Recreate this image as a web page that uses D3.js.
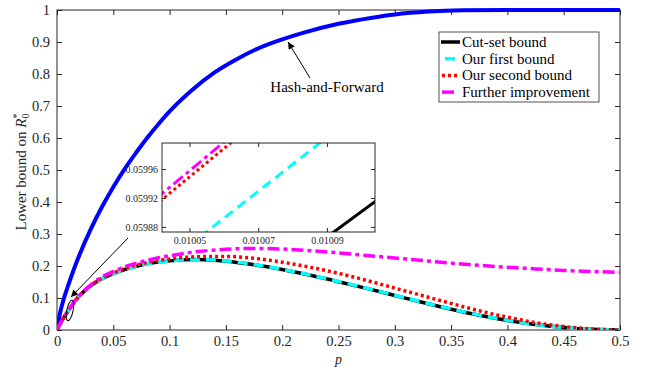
<!DOCTYPE html>
<html>
<head>
<meta charset="utf-8">
<script src="https://cdn.jsdelivr.net/npm/d3@7"></script>
<style>
  body { margin: 0; background: #fff; }
  svg, svg text { font-family: "Liberation Serif", "Times New Roman", Tinos, Times, "DejaVu Serif", serif !important; }
</style>
</head>
<body>
<div id="area"></div>
<script>
// Hash-and-Forward curve
var pBlue = [0, 0.0025, 0.005, 0.01, 0.015, 0.02, 0.03, 0.04, 0.05, 0.06, 0.07, 0.08, 0.09, 0.1,
  0.12, 0.14, 0.16, 0.18, 0.2, 0.22, 0.25, 0.28, 0.3, 0.33, 0.36, 0.4, 0.45, 0.5];
var hashForward = [0, 0.05, 0.085, 0.14, 0.19, 0.235, 0.315, 0.385, 0.447, 0.503, 0.553, 0.6, 0.643, 0.683,
  0.75, 0.805, 0.847, 0.882, 0.908, 0.93, 0.957, 0.976, 0.986, 0.995, 0.999, 1, 1, 1];

// lower bounds
var pLow = [0, 0.005, 0.01, 0.015, 0.02, 0.03, 0.04, 0.05, 0.06, 0.075, 0.1, 0.125, 0.15, 0.175, 0.2,
  0.225, 0.25, 0.275, 0.3, 0.325, 0.35, 0.375, 0.4, 0.425, 0.45, 0.475, 0.5];
var cutSet = [0, 0.033, 0.060, 0.086, 0.107, 0.138, 0.160, 0.176, 0.189, 0.203, 0.216, 0.220, 0.215, 0.204, 0.189,
  0.171, 0.151, 0.130, 0.108, 0.086, 0.065, 0.046, 0.030, 0.017, 0.008, 0.002, 0];
var firstBound = [0, 0.033, 0.060, 0.086, 0.107, 0.138, 0.160, 0.176, 0.189, 0.203, 0.216, 0.2205, 0.2155, 0.2045, 0.1895,
  0.1715, 0.1515, 0.1305, 0.1085, 0.0865, 0.0655, 0.0465, 0.0305, 0.0172, 0.0082, 0.002, 0];
var secondBound = [0, 0.033, 0.060, 0.086, 0.107, 0.139, 0.162, 0.178, 0.192, 0.207, 0.222, 0.229, 0.230, 0.224, 0.212,
  0.196, 0.177, 0.155, 0.131, 0.107, 0.083, 0.060, 0.040, 0.023, 0.011, 0.003, 0];
var further = [0, 0.034, 0.060, 0.087, 0.108, 0.141, 0.166, 0.183, 0.197, 0.213, 0.232, 0.245, 0.252, 0.255, 0.253,
  0.248, 0.241, 0.233, 0.225, 0.217, 0.209, 0.202, 0.196, 0.191, 0.186, 0.183, 0.180];

// zoomed inset, [p, value] pairs
var insetCut = [[0.010090, 0.059866], [0.010106, 0.059922]];
var insetFirst = [[0.010053, 0.059866], [0.010089, 0.060000]];
var insetSecond = [[0.010040, 0.059910], [0.010063, 0.060000]];
var insetFurther = [[0.010040, 0.059918], [0.010061, 0.060001]];

var xTicks = [0, 0.05, 0.1, 0.15, 0.2, 0.25, 0.3, 0.35, 0.4, 0.45, 0.5];
var yTicks = [0, 0.1, 0.2, 0.3, 0.4, 0.5, 0.6, 0.7, 0.8, 0.9, 1];
var insetXTicks = [0.01005, 0.01007, 0.01009];
var insetYTicks = [0.05988, 0.05992, 0.05996];

var legendNames = ["Cut-set bound", "Our first bound", "Our second bound", "Further improvement"];

var axisColor = "#262626";
var serif = '"Liberation Serif", "Times New Roman", Tinos, Times, "DejaVu Serif", serif';

var styles = {
  cut: { color: "#000000", width: 3.5, dash: null },
  first: { color: "#00ffff", width: 3.5, dash: "10,6" },
  second: { color: "#ff0000", width: 3.5, dash: "3,3" },
  further: { color: "#ff00ff", width: 3.5, dash: "12,4,4,4" }
};

var margin = { top: 10, right: 30, bottom: 43, left: 57 },
  width = 650 - margin.left - margin.right,
  height = 373 - margin.top - margin.bottom;

var svg = d3.select("#area").append("svg")
  .attr("width", 650).attr("height", 373)
  .attr("font-family", serif);

var defs = svg.append("defs");
defs.append("clipPath").attr("id", "plotClip")
  .append("rect").attr("x", 0).attr("y", -3).attr("width", width).attr("height", height + 3);
defs.append("marker").attr("id", "arrow")
  .attr("viewBox", "0 0 10 10").attr("refX", 10).attr("refY", 5)
  .attr("markerWidth", 9).attr("markerHeight", 7).attr("markerUnits", "userSpaceOnUse")
  .attr("orient", "auto")
  .append("path").attr("d", "M0,0 L10,5 L0,10 Z").attr("fill", "#000");

var g = svg.append("g").attr("transform", "translate(" + margin.left + "," + margin.top + ")");

var x = d3.scaleLinear().domain([0, 0.5]).range([0, width]);
var y = d3.scaleLinear().domain([0, 1]).range([height, 0]);

// box + inward ticks on all sides
g.append("rect").attr("width", width).attr("height", height)
  .attr("fill", "none").attr("stroke", axisColor).attr("stroke-width", 1);

var fmt = function (d) { return d3.format("~g")(d); };

var xb = g.append("g").attr("transform", "translate(0," + height + ")")
  .call(d3.axisBottom(x).tickValues(xTicks).tickSize(-5).tickPadding(6).tickFormat(fmt));
var xt = g.append("g")
  .call(d3.axisTop(x).tickValues(xTicks).tickSize(-5).tickFormat(""));
var yl = g.append("g")
  .call(d3.axisLeft(y).tickValues(yTicks).tickSize(-5).tickPadding(7).tickFormat(fmt));
var yr = g.append("g").attr("transform", "translate(" + width + ",0)")
  .call(d3.axisRight(y).tickValues(yTicks).tickSize(-5).tickFormat(""));
[xb, xt, yl, yr].forEach(function (a) {
  a.attr("font-family", serif);
  a.select(".domain").remove();
  a.selectAll("line").attr("stroke", axisColor);
  a.selectAll("text").attr("fill", axisColor).style("font-size", "14.5px");
});

// curves
var plot = g.append("g").attr("clip-path", "url(#plotClip)");
var line = d3.line().x(function (d) { return x(d[0]); }).y(function (d) { return y(d[1]); })
  .curve(d3.curveMonotoneX);

function draw(px, vals, st, target) {
  target.append("path")
    .datum(px.map(function (p, i) { return [p, vals[i]]; }))
    .attr("d", line)
    .attr("fill", "none")
    .attr("stroke", st.color)
    .attr("stroke-width", st.width)
    .attr("stroke-dasharray", st.dash);
}

draw(pBlue, hashForward, { color: "#0000ff", width: 4, dash: null }, plot);
draw(pLow, cutSet, styles.cut, plot);
draw(pLow, firstBound, styles.first, plot);
draw(pLow, secondBound, styles.second, plot);
draw(pLow, further, styles.further, plot);

// annotations
var hfFrom = [0.2247, 0.7875], hfTo = [0.2052, 0.90];
g.append("line")
  .attr("x1", x(hfFrom[0])).attr("y1", y(hfFrom[1]))
  .attr("x2", x(hfTo[0])).attr("y2", y(hfTo[1]))
  .attr("stroke", "#000").attr("stroke-width", 1).attr("marker-end", "url(#arrow)");
g.append("text").attr("x", x(0.2398)).attr("y", y(0.745))
  .attr("text-anchor", "middle").style("font-size", "15px").text("Hash-and-Forward");

var zFrom = [0.0631, 0.2875], zTo = [0.0124, 0.103];
g.append("line")
  .attr("x1", x(zFrom[0])).attr("y1", y(zFrom[1]))
  .attr("x2", x(zTo[0])).attr("y2", y(zTo[1]))
  .attr("stroke", "#000").attr("stroke-width", 1).attr("marker-end", "url(#arrow)");
g.append("ellipse").attr("cx", x(0.0115)).attr("cy", y(0.061))
  .attr("rx", x(0.0028) - x(0)).attr("ry", y(0) - y(0.033))
  .attr("transform", "rotate(12," + x(0.0115) + "," + y(0.061) + ")")
  .attr("fill", "none").attr("stroke", "#000").attr("stroke-width", 1);

// inset
var ib = { left: 162, top: 143, right: 375, bottom: 232 };
var ix = d3.scaleLinear().domain([0.010042, 0.010104]).range([ib.left, ib.right]);
var iy = d3.scaleLinear().domain([0.059873, 0.059996]).range([ib.bottom, ib.top]);
defs.append("clipPath").attr("id", "insetClip")
  .append("rect").attr("x", ib.left).attr("y", ib.top)
  .attr("width", ib.right - ib.left).attr("height", ib.bottom - ib.top);

var inset = svg.append("g");
inset.append("rect").attr("x", ib.left).attr("y", ib.top)
  .attr("width", ib.right - ib.left).attr("height", ib.bottom - ib.top)
  .attr("fill", "#fff");

var ixb = inset.append("g").attr("transform", "translate(0," + ib.bottom + ")")
  .call(d3.axisBottom(ix).tickValues(insetXTicks).tickSize(-4).tickPadding(5).tickFormat(d3.format(".5f")));
var ixt = inset.append("g").attr("transform", "translate(0," + ib.top + ")")
  .call(d3.axisTop(ix).tickValues(insetXTicks).tickSize(-4).tickFormat(""));
var iyl = inset.append("g").attr("transform", "translate(" + ib.left + ",0)")
  .call(d3.axisLeft(iy).tickValues(insetYTicks).tickSize(-4).tickPadding(4).tickFormat(d3.format(".5f")));
var iyr = inset.append("g").attr("transform", "translate(" + ib.right + ",0)")
  .call(d3.axisRight(iy).tickValues(insetYTicks).tickSize(-4).tickFormat(""));
[ixb, ixt, iyl, iyr].forEach(function (a) {
  a.attr("font-family", serif);
  a.select(".domain").remove();
  a.selectAll("line").attr("stroke", axisColor);
  a.selectAll("text").attr("fill", axisColor).style("font-size", "10px");
});

var iline = d3.line().x(function (d) { return ix(d[0]); }).y(function (d) { return iy(d[1]); });
var ic = inset.append("g").attr("clip-path", "url(#insetClip)");
[[insetCut, styles.cut], [insetFirst, styles.first], [insetSecond, styles.second], [insetFurther, styles.further]]
  .forEach(function (s) {
    ic.append("path").datum(s[0]).attr("d", iline)
      .attr("fill", "none").attr("stroke", s[1].color).attr("stroke-width", 3)
      .attr("stroke-dasharray", s[1].dash);
  });
inset.append("rect").attr("x", ib.left).attr("y", ib.top)
  .attr("width", ib.right - ib.left).attr("height", ib.bottom - ib.top)
  .attr("fill", "none").attr("stroke", axisColor).attr("stroke-width", 1);

// legend
var lg = svg.append("g").attr("transform", "translate(439,32)");
lg.append("rect").attr("width", 160).attr("height", 70)
  .attr("fill", "#fff").attr("stroke", axisColor).attr("stroke-width", 0.8);
var legendStyles = [styles.cut, styles.first, styles.second, styles.further];
var legendSamples = [[2, 21], [6, 17], [3, 21], [3, 17]];
legendNames.forEach(function (name, i) {
  var ry = 10 + i * 16.7;
  lg.append("line").attr("x1", legendSamples[i][0]).attr("x2", legendSamples[i][1])
    .attr("y1", ry).attr("y2", ry)
    .attr("stroke", legendStyles[i].color).attr("stroke-width", 3.5)
    .attr("stroke-dasharray", legendStyles[i].dash);
  lg.append("text").attr("x", 23).attr("y", ry + 5)
    .style("font-size", "15px").attr("fill", "#000").text(name);
});

// axis labels
svg.append("text").attr("x", margin.left + width / 2).attr("y", 364)
  .attr("text-anchor", "middle").style("font-size", "14px").style("font-style", "italic")
  .attr("fill", axisColor).text("p");

var ylab = svg.append("text").attr("transform", "translate(26,172) rotate(-90)")
  .attr("text-anchor", "middle").style("font-size", "15px").attr("fill", axisColor);
ylab.append("tspan").text("Lower bound on ");
ylab.append("tspan").style("font-style", "italic").text("R");
ylab.append("tspan").attr("dy", -6).style("font-size", "10px").text("*");
ylab.append("tspan").attr("dx", -5).attr("dy", 9).style("font-size", "10px").text("0");
</script>
</body>
</html>
